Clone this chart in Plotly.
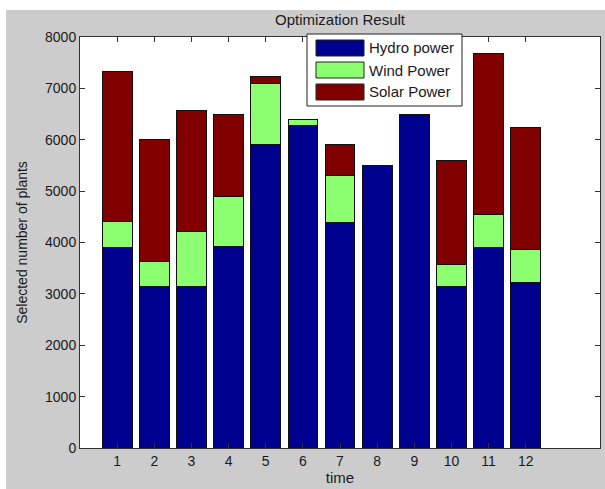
import plotly.graph_objects as go

# ---- data ----
time_labels = [str(i) for i in range(1, 13)]
time_x = list(range(1, 13))
hydro = [3900, 3150, 3150, 3930, 5900, 6280, 4380, 5500, 6500, 3150, 3910, 3230]
wind = [510, 490, 1070, 970, 1200, 120, 930, 0, 0, 430, 640, 640]
solar = [2920, 2370, 2340, 1600, 140, 0, 600, 0, 0, 2020, 3130, 2360]
series_names = ["Hydro power", "Wind Power", "Solar Power"]
series_colors = ["#00008F", "#8CFF70", "#800000"]
y_ticks = list(range(0, 8001, 1000))

W, H = 605, 489
L, R, T, B = 80, 5, 37, 41
PW, PH = W - L - R, H - T - B
FONT = "Liberation Sans, Arial, sans-serif"
TXT = "#1a1a1a"


def px(x):
    return (x - L) / PW


def py(y):
    return (H - B - y) / PH


fig = go.Figure()
for name, vals, col in zip(series_names, [hydro, wind, solar], series_colors):
    fig.add_trace(go.Bar(
        x=time_x, y=vals, name=name, width=0.8,
        marker=dict(color=col, line=dict(color="#111111", width=1)),
        showlegend=False,
    ))

shapes = [
    # gray figure background with white outer border
    dict(type="rect", xref="paper", yref="paper", x0=px(6), x1=px(W + 5), y0=py(H + 5), y1=py(10),
         fillcolor="#CCCCCC", line=dict(width=0), layer="below"),
    dict(type="rect", xref="paper", yref="paper", x0=0, x1=1, y0=0, y1=1,
         fillcolor="white", line=dict(width=0), layer="below"),
    # legend box
    dict(type="rect", xref="paper", yref="paper", x0=px(307), x1=px(462), y0=py(106), y1=py(34),
         fillcolor="white", line=dict(color="#222222", width=1), layer="above"),
]
annotations = []
row_centers = [48, 70, 92]
for name, col, yc in zip(series_names, series_colors, row_centers):
    shapes.append(dict(type="rect", xref="paper", yref="paper", x0=px(316), x1=px(364),
                       y0=py(yc + 8), y1=py(yc - 8), fillcolor=col,
                       line=dict(color="#222222", width=1), layer="above"))
    annotations.append(dict(text=name, xref="paper", yref="paper", x=px(367), y=py(yc),
                            xanchor="left", yanchor="middle", showarrow=False,
                            font=dict(family=FONT, size=15, color=TXT)))

fig.update_layout(
    width=W, height=H,
    margin=dict(l=L, r=R, t=T, b=B, pad=0),
    paper_bgcolor="white", plot_bgcolor="white",
    barmode="stack",
    font=dict(family=FONT, size=14, color=TXT),
    title=dict(text="Optimization Result", x=px(340), xanchor="center", xref="paper",
               y=1 - 20 / H, yanchor="middle", yref="container",
               font=dict(family=FONT, size=15, color=TXT)),
    shapes=shapes, annotations=annotations,
    xaxis=dict(range=[0, 14], tickmode="array", tickvals=time_x, ticktext=time_labels,
               ticks="inside", ticklen=5, tickcolor="#333333", showline=True, linecolor="#333333",
               linewidth=1, mirror="ticks", showgrid=False, zeroline=False,
               title=dict(text="time", standoff=2, font=dict(size=15)), tickfont=dict(size=14)),
    yaxis=dict(range=[0, 8000], tickmode="array", tickvals=y_ticks, ticks="inside", ticklen=5,
               tickcolor="#333333", showline=True, linecolor="#333333", linewidth=1, mirror="ticks",
               showgrid=False, zeroline=False,
               title=dict(text="Selected number of plants", standoff=14, font=dict(size=14)),
               tickfont=dict(size=14)),
)

fig.write_html("out.html", config={"displayModeBar": False},
               post_script="document.body.style.margin='0';")
